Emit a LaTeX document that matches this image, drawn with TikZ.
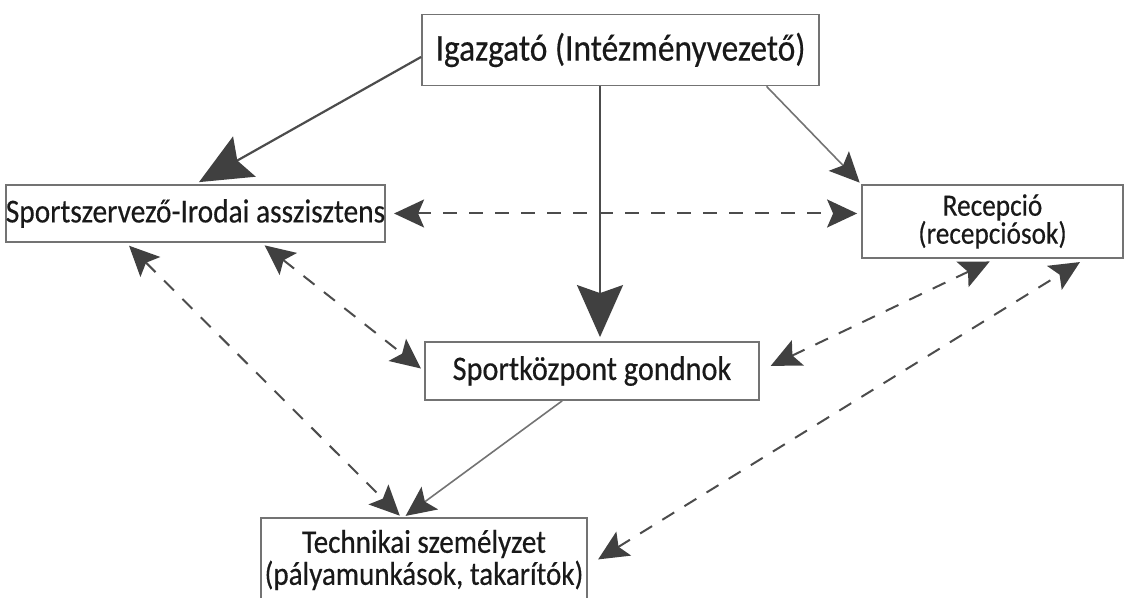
\documentclass[tikz,border=0pt]{standalone}
\usepackage{fontspec}
\setmainfont{Carlito}[FakeStretch=0.88, FakeBold=0.4]
\usetikzlibrary{arrows.meta}

\begin{document}
\begin{tikzpicture}[x=0.5pt,y=-0.5pt,
        box/.style={draw=black!55, line width=0.9pt, fill=white, align=center, inner sep=0pt, text=black!90},
        thinline/.style={draw=black!55, line width=0.8pt},
        boldline/.style={draw=black!70, line width=1.1pt},
        dashline/.style={draw=black!70, line width=1pt, dash pattern=on 7pt off 6pt},
        bigarrow/.style={-{Stealth[length=26pt,width=23pt,inset=4pt,color=black!75]}},
        smallarrow/.style={-{Stealth[length=15pt,width=14pt,inset=3pt,color=black!75]}},
        twoway/.style={{Stealth[length=15pt,width=14pt,inset=3pt,color=black!75]}-{Stealth[length=15pt,width=14pt,inset=3pt,color=black!75]}}]
    \useasboundingbox (0,0) rectangle (1131,598);
    \node[box, font=\fontsize{19}{20}\selectfont, minimum width=198.5pt, minimum height=35.5pt] (igazgato) at (620.5,50) {Igazgató (Intézményvezető)};
    \node[box, font=\fontsize{16.7}{17}\selectfont, minimum width=187.5pt, minimum height=28.5pt] (szervezo) at (195.5,213.5) {Sportszervező-Irodai asszisztens};
    \node[box, font=\fontsize{15.5}{14}\selectfont, minimum width=130.5pt, minimum height=36.5pt] (recepcio) at (992.5,221.5) {Recepció\\(recepciósok)};
    \node[box, font=\fontsize{17.2}{17}\selectfont, minimum width=167pt, minimum height=29pt] (gondnok) at (592,371) {Sportközpont gondnok};
    \node[box, font=\fontsize{16.5}{16}\selectfont, minimum width=163pt, minimum height=42pt] (technikai) at (424,560) {Technikai személyzet\\(pályamunkások, takarítók)};

    \draw[boldline, bigarrow, shorten >=2pt] (igazgato.182) -- (szervezo.north);
    \draw[boldline, bigarrow, shorten >=2pt] (igazgato.south -| gondnok.75) -- (gondnok.75);
    \draw[thinline, smallarrow, shorten >=1pt] (igazgato.-14) -- (recepcio.north west);
    \draw[thinline, smallarrow, shorten >=1pt] (gondnok.-135) -- (technikai.115);

    \draw[dashline, twoway, shorten <=4pt, shorten >=2pt] (szervezo.east) -- (szervezo.east -| recepcio.west);
    \draw[dashline, twoway, shorten <=2pt, shorten >=1pt] (szervezo.203) -- (technikai.118);
    \draw[dashline, twoway, shorten <=2pt, shorten >=2pt] (szervezo.-24) -- (gondnok.west);
    \draw[dashline, twoway, shorten <=6pt, shorten >=3pt] (gondnok.east) -- (recepcio.-86);
    \draw[dashline, twoway, shorten <=6pt, shorten >=3pt] (technikai.-2) -- (recepcio.-22);
\end{tikzpicture}
\end{document}
